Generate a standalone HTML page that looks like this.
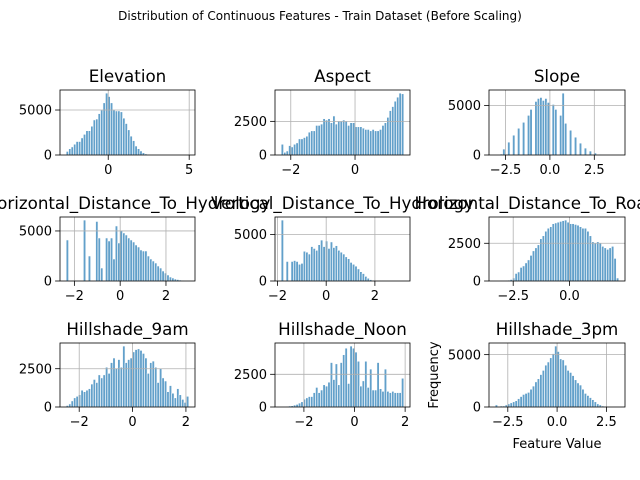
<!DOCTYPE html>
<html><head><meta charset="utf-8">
<style>
html,body{margin:0;padding:0;background:#fff;}
svg{display:block;font-family:"DejaVu Sans","Liberation Sans",sans-serif;}
</style></head>
<body>
<svg id="fig" width="640" height="480" viewBox="0 0 640 480" xmlns="http://www.w3.org/2000/svg">
<rect width="640" height="480" fill="#fff"/>
<text x="320" y="20" font-size="12" text-anchor="middle" fill="#000">Distribution of Continuous Features - Train Dataset (Before Scaling)</text>
<text transform="translate(438,375) rotate(-90)" font-size="13" text-anchor="middle" fill="#000">Frequency</text>
<text x="557" y="448" font-size="13" text-anchor="middle" fill="#000">Feature Value</text>
</svg>
<script>
// ---- data ----
const featureNames = ["Elevation","Aspect","Slope","Horizontal_Distance_To_Hydrology","Vertical_Distance_To_Hydrology","Horizontal_Distance_To_Roadways","Hillshade_9am","Hillshade_Noon","Hillshade_3pm"];
const elevRange = [-2.6, 4.98];
const elevCounts = [400,700,900,1200,1500,1500,1900,2300,2700,2700,3200,3900,4000,4600,5000,5800,6880,6500,5800,5000,4900,4900,4800,4100,3500,2800,2100,1600,1000,700,450,250,120,60,30,15,10,5,5,3,2,2,1,1,1,1,1,1,1,1];
const aspectRange = [-2.3, 1.52];
const aspectCounts = [800,200,300,700,600,800,900,1200,1200,1300,1400,1700,1800,1800,2200,2200,2300,2700,2600,2700,2400,2900,2300,2500,2500,2600,2500,2200,2400,2400,2100,2100,2100,2000,1900,1900,1800,1900,1800,1800,1900,2200,2400,2800,3300,3600,4000,4300,4600,4550];
const slopeRange = [-3.08, 3.88];
const slopeCounts = [50,0,100,600,0,1300,0,2000,0,2700,0,3300,0,4000,4600,0,5400,5700,5800,5500,5700,5300,0,5100,4600,0,4000,6240,3200,0,2500,0,1800,0,1200,0,700,0,400,0,200,0,60,0,20,0,0,0,0,10];
const hdhRange = [-2.36, 3.0];
const hdhCounts = [4100,0,0,0,0,0,0,6090,0,2500,0,0,5950,4300,1300,0,4300,4000,4300,2200,5500,3800,5050,4800,4600,4300,4100,3900,3600,3400,3100,3000,3000,2500,2200,2000,1800,1500,1300,1000,800,600,400,300,200,150,100,60,30,10];
const vdhRange = [-1.85, 3.19];
const vdhCounts = [6550,0,2100,0,2100,2200,2100,1800,1900,3200,3100,2900,3700,3500,3300,3900,4400,3700,4300,3500,4200,3600,3800,3300,3100,2900,2600,2400,2000,1800,1600,1300,1000,800,500,300,150,80,40,20,10,5,3,2,1,1,1,0,0,1];
const hdrRange = [-3.3, 2.19];
const hdrCounts = [30,30,40,40,50,60,100,200,500,600,900,1000,1200,1400,1700,2000,2200,2400,2800,3000,3300,3500,3600,3800,3850,3900,3950,4000,4040,3900,3800,3800,3750,3700,3600,3500,3500,3300,3000,2600,2500,2600,2500,2300,2200,2100,2200,2300,1500,200];
const h9Range = [-2.49, 2.11];
const h9Counts = [100,200,400,600,700,800,1100,1000,1100,1200,1500,1800,1600,2100,1900,2100,2600,2200,2900,3200,2500,3100,2600,3980,2900,3100,3200,3600,3750,3800,3700,3500,3200,2200,2900,3000,2600,1600,2500,1900,1700,1000,1400,900,600,1200,800,500,300,700];
const hnRange = [-2.9, 1.95];
const hnCounts = [20,30,50,80,100,150,200,300,400,600,700,800,800,1100,1500,1100,1300,1700,1600,1900,3400,2100,3300,1700,3400,4000,4500,1800,4660,4500,4200,3500,1600,2000,3500,1500,2900,1300,1300,3400,1400,1200,2900,1200,1100,1200,1100,1100,1100,2200];
const h3Range = [-3.14, 3.13];
const h3Counts = [200,0,100,100,200,300,400,500,600,800,1000,1200,1300,1400,1700,2000,2400,2700,3100,3500,4000,4300,4700,5100,5820,5300,4600,4500,4000,3500,3300,3000,2600,2300,2100,1700,1300,1100,900,700,500,300,200,100,60,30,10,0,0,0];
const yTickLabels = [["0","5000"],["0","2500"],["0","5000"],["0","5000"],["0","5000"],["0","2500"],["0","2500"],["0","2500"],["0","5000"]];
const xTickLabels = [["0","5"],["-2","0"],["-2.5","0.0","2.5"],["-2","0","2"],["-2","0","2"],["-2.5","0.0"],["-2","0","2"],["-2","0","2"],["-2.5","0.0","2.5"]];

const ranges=[elevRange,aspectRange,slopeRange,hdhRange,vdhRange,hdrRange,h9Range,hnRange,h3Range];
const counts=[elevCounts,aspectCounts,slopeCounts,hdhCounts,vdhCounts,hdrCounts,h9Counts,hnCounts,h3Counts];
const colX=[[60,195],[275,410],[489,625]];
const rowY=[[90,155],[217,281],[343,407]];
const NS="http://www.w3.org/2000/svg";
const svg=document.getElementById('fig');
function mk(tag,attrs,parent){const e=document.createElementNS(NS,tag);for(const k in attrs)e.setAttribute(k,attrs[k]);(parent||svg).appendChild(e);return e;}

for(let p=0;p<9;p++){
  const [x0,x1]=colX[p%3],[y0,y1]=rowY[Math.floor(p/3)];
  const [lo,hi]=ranges[p],c=counts[p];
  const pad=(hi-lo)*0.05,xmin=lo-pad,xmax=hi+pad;
  const ymax=Math.max(...c)*1.05;
  const sx=v=>x0+(v-xmin)/(xmax-xmin)*(x1-x0);
  const sy=v=>y1-v/ymax*(y1-y0);
  const g=mk('g',{});
  
  
  const t=mk('text',{x:(x0+x1)/2,y:y0-8,'font-size':'16.7','text-anchor':'middle',fill:'#000'},g);
  t.textContent=featureNames[p];
  
  
  const bw=(hi-lo)/c.length;
  for(let i=0;i<c.length;i++){
    if(c[i]<=0)continue;
    const a=lo+i*bw,b=a+bw;
    const r=mk('rect',{x:sx(a),y:sy(c[i]),width:sx(b)-sx(a),height:sy(0)-sy(c[i]),fill:'#1f77b4','fill-opacity':'0.7',stroke:'#fff','stroke-width':'0.6'},g);
    
    
  }
  xTickLabels[p].forEach(l=>{
    const v=parseFloat(l),X=sx(v);
    mk('line',{x1:X,x2:X,y1:y0,y2:y1,stroke:'#b0b0b0','stroke-width':'0.8'},g);
    mk('line',{x1:X,x2:X,y1:y1,y2:y1+4.9,stroke:'#000','stroke-width':'0.8'},g);
    const tx=mk('text',{x:X,y:y1+19,'font-size':'13','text-anchor':'middle',fill:'#000'},g);
    tx.textContent=l.replace('-','\u2212');
    
    
  });
  yTickLabels[p].forEach(l=>{
    const Y=sy(parseFloat(l));
    if(parseFloat(l)>0)mk('line',{x1:x0,x2:x1,y1:Y,y2:Y,stroke:'#b0b0b0','stroke-width':'0.8'},g);
    mk('line',{x1:x0-4.9,x2:x0,y1:Y,y2:Y,stroke:'#000','stroke-width':'0.8'},g);
    const ty=mk('text',{x:x0-8,y:Y+4.7,'font-size':'13','text-anchor':'end',fill:'#000'},g);
    ty.textContent=l;
    
    
  });
  const fr=mk('rect',{x:x0,y:y0,width:x1-x0,height:y1-y0,fill:'none',stroke:'#000','stroke-width':'0.8'},g);
  
  
}
</script>
</body></html>
